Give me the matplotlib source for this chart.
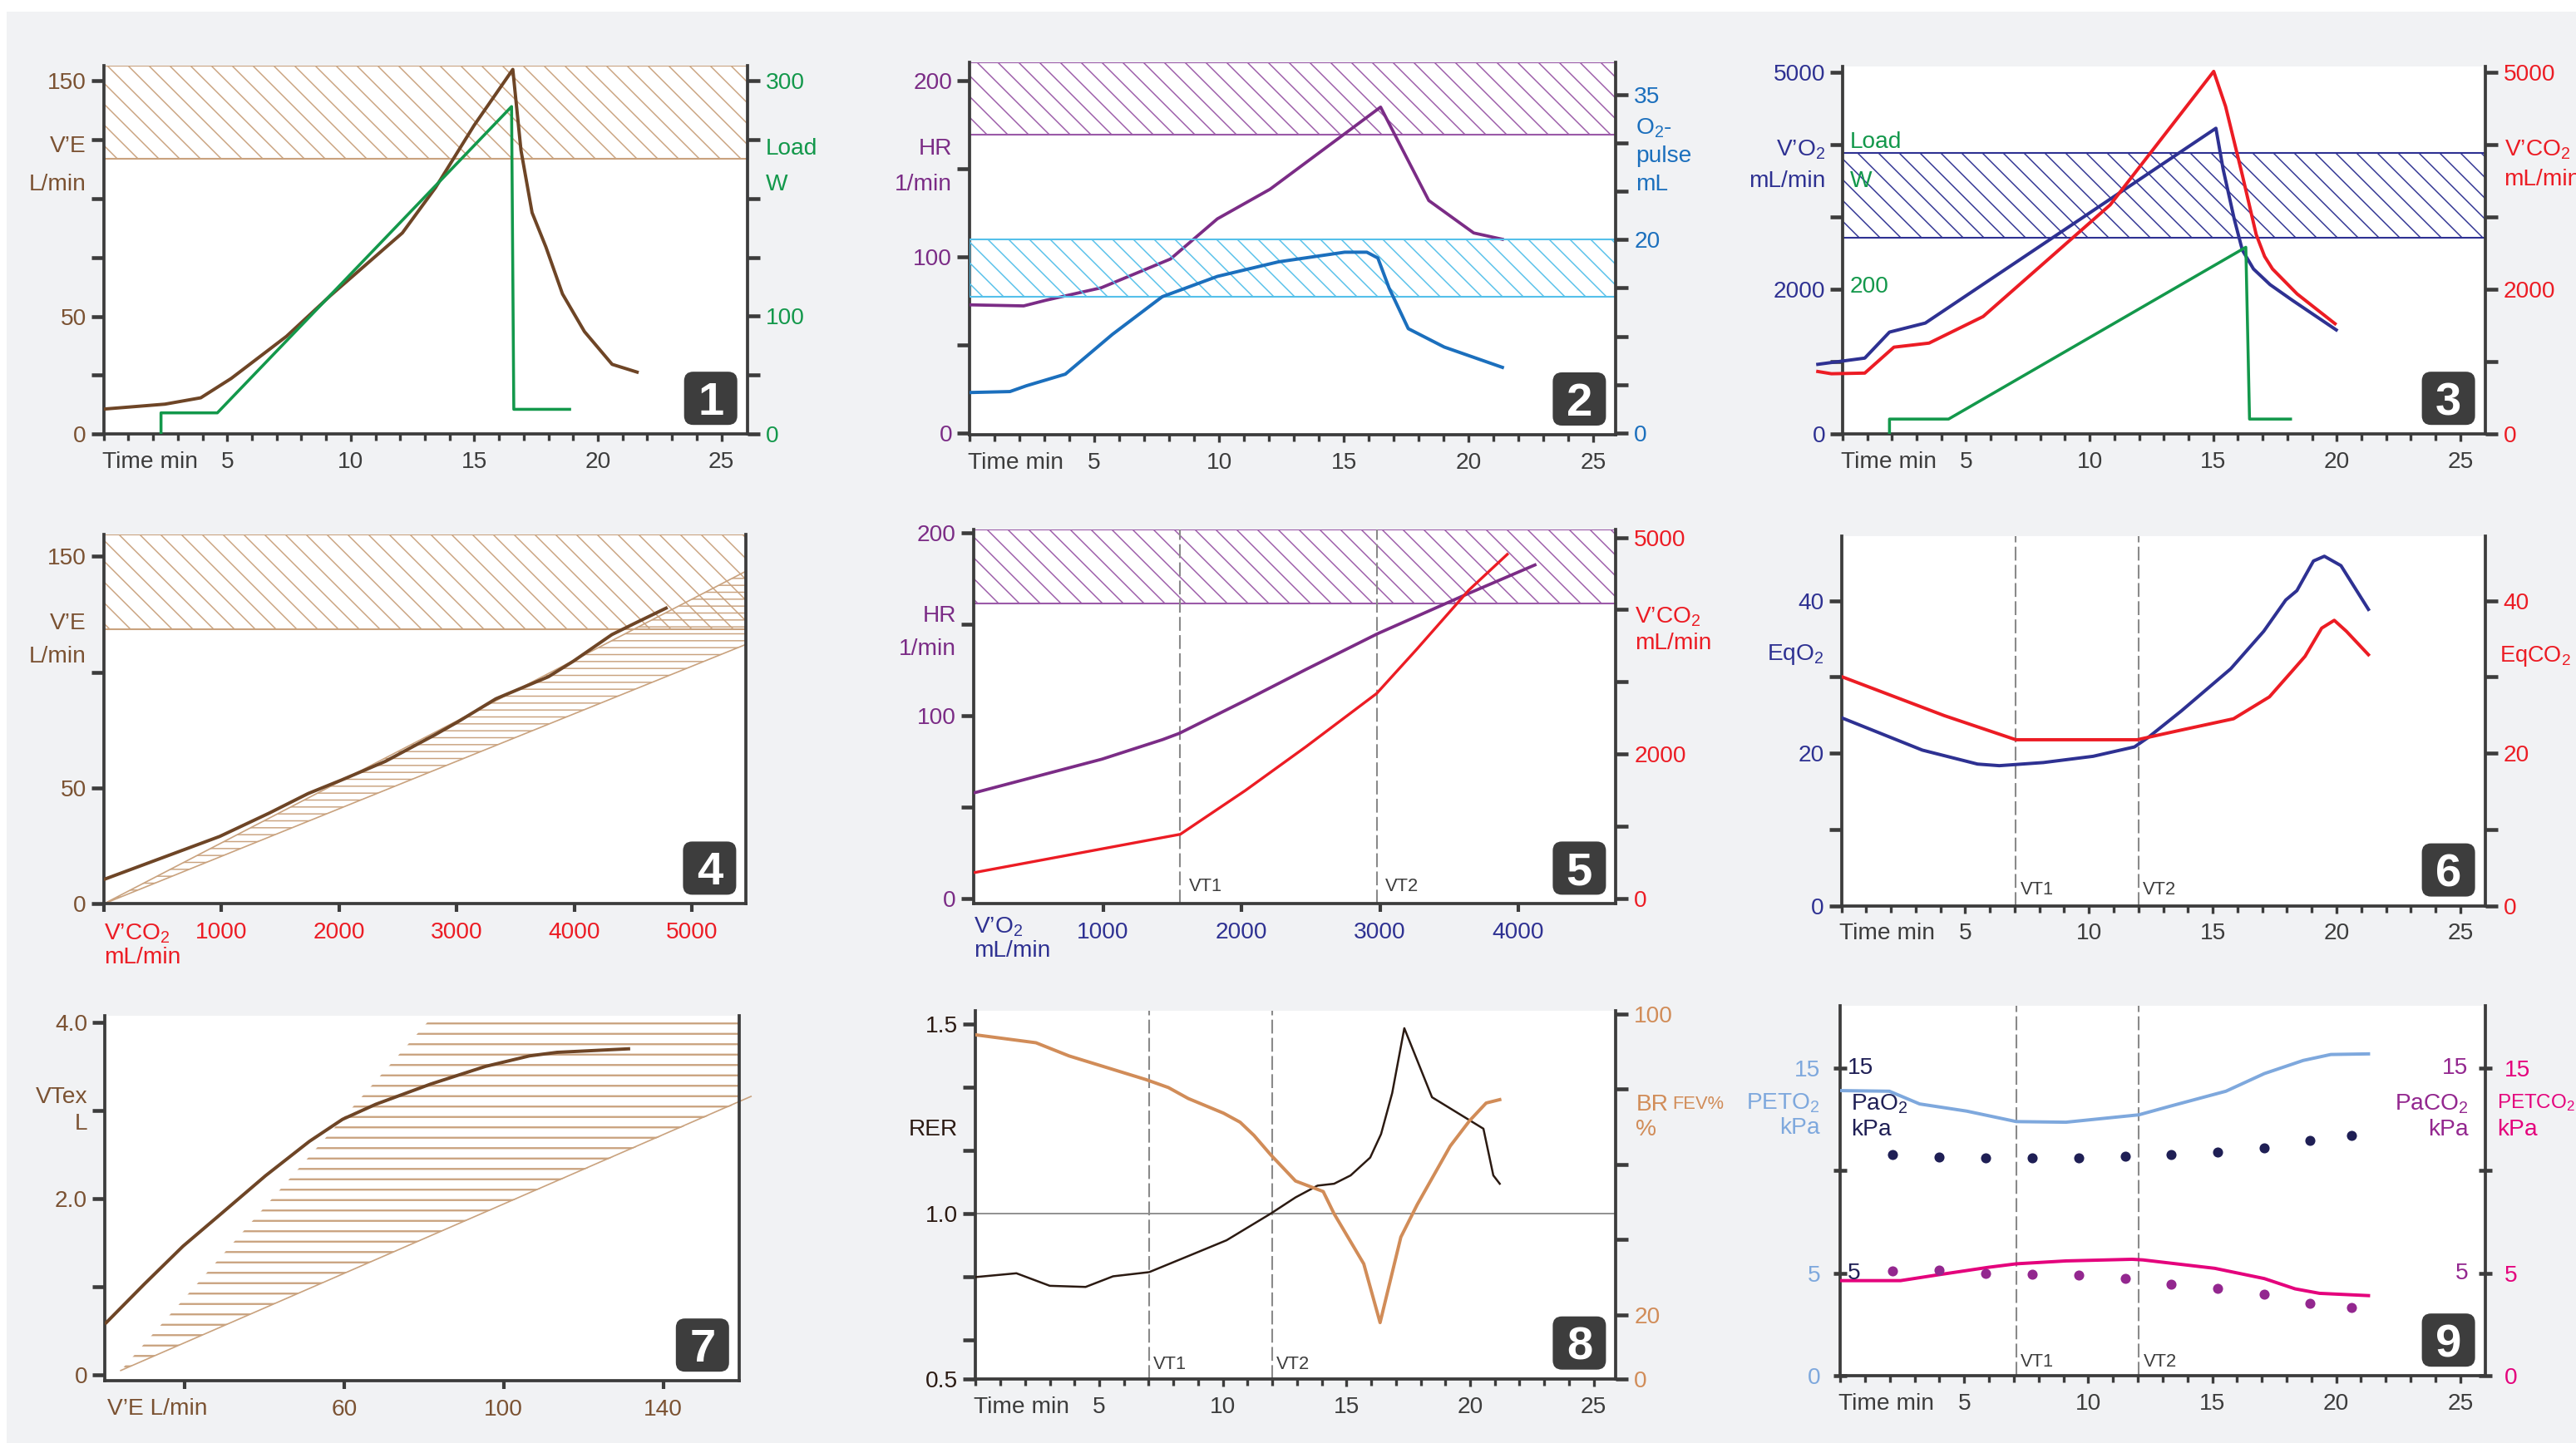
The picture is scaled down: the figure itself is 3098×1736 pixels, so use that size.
import numpy as np
import matplotlib
matplotlib.use("Agg")
import matplotlib.pyplot as plt
from matplotlib.patches import FancyBboxPatch, Rectangle
from matplotlib.transforms import IdentityTransform

W, H, DPI = 3098, 1736, 150

BG = "#f1f2f4"
DARK = "#3c3c3c"
BROWN = "#6e4526"
BROWN_TXT = "#7b5232"
TAN = "#c9a27e"
GREEN = "#13984b"
PURPLE = "#7b2c86"
BLUE = "#1b6fbd"
SKY = "#55c0ea"
NAVY = "#2e3192"
RED = "#ec1c24"
BR_TAN = "#d18c58"
RER_C = "#2b1a12"
LBLUE = "#7ea8dd"
DNAVY = "#1f1f55"
MAGENTA = "#e4007c"
VIOLET = "#93278f"
VTGRAY = "#8a8a8a"

# ---------------- data ----------------
# 1: V'E and load vs time
p1_t = [0, 2.48, 3.93, 5.16, 7.4, 9.18, 12.09, 13.43, 14.99, 16.56, 16.89, 17.34, 17.9, 18.57, 19.46, 20.58, 21.59]
p1_ve = [10.6, 12.7, 15.4, 23.6, 41.5, 58.8, 85.4, 104.6, 131, 154.8, 120.5, 94, 79.4, 59.5, 43.5, 29.6, 26.3]
p1_load_t = [2.32, 2.32, 4.6, 16.51, 16.6, 18.86]
p1_load_w = [0, 18, 18, 278, 21, 21]
p1_band = (117, 156.4)

# 2: HR and O2 pulse vs time
p2_t_hr = [0, 2.17, 3.06, 5.28, 8.05, 9.93, 12.04, 16.47, 18.4, 20.2, 21.35]
p2_hr = [72.8, 72.2, 75.4, 82.5, 98.8, 121.6, 138.4, 185, 132, 113.6, 110]
p2_t_o2 = [0, 1.62, 2.28, 3.84, 5.72, 7.72, 9.93, 12.37, 15.03, 15.92, 16.36, 16.81, 17.58, 19.02, 21.35]
p2_o2 = [4.2, 4.3, 4.9, 6.1, 10.2, 14.1, 16.2, 17.7, 18.7, 18.7, 18.1, 15.0, 10.8, 8.9, 6.8]
p2_band_hr = (169.5, 210.3)
p2_band_o2 = (14.1, 20.0)

# 3: V'O2, V'CO2 and load vs time
p3_t_vo2 = [-1.0, 0.9, 1.9, 3.35, 15.11, 15.4, 15.85, 16.18, 16.63, 17.3, 18.2, 19.98]
p3_vo2 = [963, 1049, 1408, 1533, 4223, 3661, 2971, 2539, 2280, 2064, 1848, 1438]
p3_t_vco2 = [-1.0, -0.45, 0.9, 2.08, 3.5, 5.69, 10.83, 15.02, 15.5, 16.18, 16.74, 17.08, 17.4, 18.4, 19.93]
p3_vco2 = [864, 833, 842, 1200, 1256, 1623, 3165, 5008, 4525, 3575, 2755, 2453, 2280, 1934, 1524]
p3_load_t = [1.9, 1.9, 4.29, 16.32, 16.47, 18.13]
p3_load_w = [0, 20.7, 20.7, 258, 20.7, 20.7]   # drawn at 10 mL/min per W
p3_band = (2712, 3877)

# 4: V'E vs V'CO2
p4_vco2 = [0, 986, 1408, 1737, 2019, 2394, 2817, 3005, 3333, 3779, 3991, 4319, 4507, 4779]
p4_ve = [10.5, 29.1, 39.2, 47.6, 53.4, 61.5, 73.0, 78.4, 88.5, 98.0, 104.7, 116.2, 120.9, 127.6]
p4_lim_x = [0, 5460]
p4_lim_lo = [0, 112]
p4_lim_hi = [0, 143.6]
p4_band = (118.6, 159.5)

# 5: HR and V'CO2 vs V'O2
p5_vo2_hr = [76, 992, 1430, 1550, 2028, 2466, 2984, 3622, 4120]
p5_hr = [58, 76.3, 87, 90.4, 108.4, 125.4, 145, 166.4, 182.6]
p5_vo2_co2 = [76, 1558, 2028, 2466, 2976, 3263, 3641, 3920]
p5_vco2 = [364, 892, 1498, 2104, 2840, 3446, 4268, 4766]
p5_vt = [1558, 2976]
p5_band = (161.6, 202)

# 6: EqO2 and EqCO2 vs time
p6_t_o2 = [0.04, 3.27, 5.5, 6.38, 8.16, 10.17, 11.84, 12.39, 13.73, 15.73, 17.06, 17.95, 18.4, 19.07, 19.51, 20.18, 21.29]
p6_eqo2 = [24.6, 20.4, 18.57, 18.36, 18.77, 19.59, 20.82, 22.05, 25.53, 31.07, 35.98, 40.08, 41.31, 45.2, 45.82, 44.59, 38.85]
p6_t_co2 = [0.04, 4.16, 7.05, 11.95, 13.5, 15.84, 17.29, 18.18, 18.73, 19.4, 19.91, 20.4, 21.29]
p6_eqco2 = [30.0, 24.92, 21.76, 21.76, 22.87, 24.51, 27.38, 30.66, 32.7, 36.39, 37.42, 35.98, 32.91]
p6_vt = [7.05, 12.0]

# 7: VTex vs V'E
p7_ve = [0.3, 9.9, 19.6, 29.2, 40.3, 51.3, 59.6, 67.9, 81.7, 95.4, 106.5, 113.4, 131.3]
p7_vt = [0.59, 1.03, 1.46, 1.83, 2.26, 2.65, 2.90, 3.07, 3.30, 3.50, 3.62, 3.66, 3.70]
p7_lim_ve = [4, 162]
p7_lim_vt = [0.05, 3.16]
p7_zone_ve = [4, 83, 159, 159]
p7_zone_vt = [0.05, 4.11, 4.11, 3.09]

# 8: RER and breathing reserve vs time
p8_t_rer = [0, 1.65, 3.0, 4.45, 5.56, 7.02, 8.7, 10.15, 11.93, 12.94, 13.83, 14.5, 15.17, 15.96, 16.4, 16.85, 17.34, 18.46, 20.54, 20.94, 21.2]
p8_rer = [0.833, 0.843, 0.81, 0.807, 0.835, 0.846, 0.891, 0.93, 1.0, 1.043, 1.074, 1.079, 1.101, 1.148, 1.21, 1.318, 1.489, 1.307, 1.224, 1.101, 1.079]
p8_t_br = [0, 2.44, 3.78, 6.9, 7.8, 8.6, 10.03, 10.7, 11.26, 11.93, 12.94, 14.06, 14.5, 15.7, 16.36, 17.2, 17.86, 19.2, 19.98, 20.65, 21.2]
p8_br = [94.4, 92.3, 88.8, 82.5, 80.4, 77.5, 73.6, 71.2, 67.7, 62.6, 55.6, 52.8, 46.9, 33.6, 18.0, 40.7, 49.3, 64.9, 71.6, 76.3, 77.2]
p8_vt = [7.02, 11.98]

# 9: gas tensions vs time
p9_t_peto2 = [0, 1.98, 3.2, 5.1, 7.1, 9.1, 12.04, 13.33, 15.55, 17.1, 18.67, 19.78, 21.3]
p9_peto2 = [13.9, 13.87, 13.25, 12.9, 12.39, 12.36, 12.72, 13.15, 13.87, 14.73, 15.37, 15.66, 15.69]
p9_t_petco2 = [0, 2.43, 3.98, 5.98, 7.1, 9.1, 11.77, 12.2, 13.33, 15.1, 17.1, 18.34, 19.33, 21.3]
p9_petco2 = [4.64, 4.64, 4.93, 5.29, 5.46, 5.60, 5.68, 5.65, 5.49, 5.24, 4.74, 4.24, 4.02, 3.91]
p9_t_blood = [2.11, 3.98, 5.87, 7.74, 9.61, 11.48, 13.35, 15.22, 17.09, 18.95, 20.6]
p9_pao2 = [10.80, 10.68, 10.62, 10.62, 10.62, 10.72, 10.80, 10.89, 11.09, 11.49, 11.71]
p9_paco2 = [5.10, 5.14, 4.99, 4.94, 4.90, 4.74, 4.48, 4.27, 3.99, 3.52, 3.33]
p9_vt = [7.1, 12.04]

# ---------------- style ----------------
plt.rcParams["font.family"] = ["Liberation Sans", "DejaVu Sans"]
plt.rcParams["mathtext.fontset"] = "custom"
plt.rcParams["mathtext.rm"] = "Liberation Sans"
plt.rcParams["mathtext.it"] = "Liberation Sans:italic"
plt.rcParams["mathtext.bf"] = "Liberation Sans:bold"
plt.rcParams["hatch.linewidth"] = 0.7
FS = 13.5

fig = plt.figure(figsize=(W / DPI, H / DPI), dpi=DPI, facecolor="white")
fig.patches.append(Rectangle((8 / W, 0), 1, 1 - 14 / H, transform=fig.transFigure,
                             facecolor=BG, edgecolor="none", zorder=-10))


def setup(box, xlim, ylim, ylim_r=None):
    l, t, r, b = box
    ax = fig.add_axes([l / W, 1 - b / H, (r - l) / W, (b - t) / H])
    ax.set_xlim(*xlim)
    ax.set_ylim(*ylim)
    ax.set_facecolor("white")
    ax.spines["top"].set_visible(False)
    ax.spines["right"].set_visible(False)
    for s in ("left", "bottom"):
        ax.spines[s].set_color(DARK)
        ax.spines[s].set_linewidth(1.8)
    ax.tick_params(axis="y", length=7, width=2.2, color=DARK, pad=3, labelsize=FS)
    ax.tick_params(axis="x", which="both", length=4.5, width=1.6, color=DARK, pad=5.5,
                   labelsize=FS, labelcolor=DARK)
    tw = ax.twinx()
    tw.set_ylim(*(ylim_r or ylim))
    for s in ("top", "left", "bottom"):
        tw.spines[s].set_visible(False)
    tw.spines["right"].set_color(DARK)
    tw.spines["right"].set_linewidth(1.8)
    tw.tick_params(axis="y", length=7, width=2.2, color=DARK, pad=3.5, labelsize=FS)
    return ax, tw


def yticks(ax, ticks, labels, color):
    ax.set_yticks(ticks, labels=labels)
    ax.tick_params(axis="y", labelcolor=color)


def side_text(ax, y, s, color, side="left", off=10, dx=0, size=FS):
    # outside the spine
    if side == "left":
        ax.annotate(s, xy=(0, y), xycoords=("axes fraction", "data"), xytext=(-off + dx, 0),
                    textcoords="offset points", ha="right", va="center", color=color,
                    fontsize=size, annotation_clip=False)
    else:
        ax.annotate(s, xy=(1, y), xycoords=("axes fraction", "data"), xytext=(off + dx, 0),
                    textcoords="offset points", ha="left", va="center", color=color,
                    fontsize=size, annotation_clip=False)


def inner_text(ax, y, s, color, side, off):
    # inside the spine
    if side == "left":
        ax.annotate(s, xy=(0, y), xycoords=("axes fraction", "data"), xytext=(off, 0),
                    textcoords="offset points", ha="left", va="center", color=color, fontsize=FS)
    else:
        ax.annotate(s, xy=(1, y), xycoords=("axes fraction", "data"), xytext=(-off, 0),
                    textcoords="offset points", ha="right", va="center", color=color, fontsize=FS)


def under_text(ax, s, color, dy):
    ax.annotate(s, xy=(0, 0), xycoords="axes fraction", xytext=(0, -dy), textcoords="offset points",
                ha="left", va="center", color=color, fontsize=FS, annotation_clip=False)


def time_axis(ax):
    ax.set_xticks([5, 10, 15, 20, 25])
    ax.set_xticks(range(0, 26), minor=True)
    ax.tick_params(axis="x", which="minor", length=4)
    ax.annotate("Time min", xy=(0, 0), xycoords="axes fraction", xytext=(-1, -10),
                textcoords="offset points", ha="left", va="top", color=DARK, fontsize=FS)


def vt_lines(ax, xs, dx=2.5, dy=4):
    for x, name in zip(xs, ("VT1", "VT2")):
        ax.axvline(x, color=VTGRAY, lw=1.0, dashes=(8, 2.5), zorder=1.5)
        ax.annotate(name, xy=(x, 0), xycoords=("data", "axes fraction"), xytext=(dx, dy),
                    textcoords="offset points", ha="left", va="bottom", color=DARK, fontsize=10.5)


def band(ax, lo, hi, color):
    ax.axhspan(lo, hi, facecolor="none", edgecolor=color, linewidth=1.0, hatch="\\\\", zorder=1)


def badge(box, n):
    l, t, r, b = box
    x1, y1 = r - 12, b - 11
    x0, y0 = x1 - 64, y1 - 64
    p = FancyBboxPatch((x0 + 11, H - y1 + 11), 42, 42, boxstyle="round,pad=11",
                       transform=IdentityTransform(), facecolor="#3d3d3d", edgecolor="none", zorder=10)
    fig.add_artist(p)
    fig.text((x0 + 32) / W, 1 - (y0 + 32 + 20) / H, str(n), color="white", fontsize=27,
             fontweight="bold", ha="center", va="baseline", zorder=11)


B1 = (124.7, 79.0, 898.7, 522.2)
B2 = (1166.0, 75.2, 1943.4, 523.0)
B3 = (2215.9, 79.8, 2988.6, 522.2)
B4 = (124.7, 642.7, 897.4, 1087.4)
B5 = (1170.7, 637.0, 1943.4, 1087.4)
B6 = (2214.5, 644.6, 2988.6, 1089.6)
B7 = (126.0, 1221.8, 888.8, 1661.2)
B8 = (1173.3, 1215.5, 1943.4, 1658.7)
B9 = (2213.2, 1210.1, 2988.6, 1655.2)

# ---- 1
ax, tw = setup(B1, (0, 26.05), (0, 156.4), (0, 312.7))
time_axis(ax)
band(ax, *p1_band, TAN)
ax.plot(p1_t, p1_ve, color=BROWN, lw=1.9, zorder=3)
tw.plot(p1_load_t, p1_load_w, color=GREEN, lw=1.7, zorder=3)
yticks(ax, [0, 25, 50, 75, 100, 125, 150], ["0", "", "50", "", "", "", "150"], BROWN_TXT)
yticks(tw, [0, 50, 100, 150, 200, 250, 300], ["0", "", "100", "", "", "", "300"], GREEN)
side_text(ax, 122, "V’E", BROWN_TXT)
side_text(ax, 106, "L/min", BROWN_TXT)
side_text(tw, 242, "Load", GREEN, "right", 10.5)
side_text(tw, 212, "W", GREEN, "right", 10.5)
badge(B1, 1)

# ---- 2
ax, tw = setup(B2, (0, 25.9), (-0.9, 210.3), (-0.16, 38.3))
time_axis(ax)
band(ax, *p2_band_hr, "#9b5aa8")
band(tw, *p2_band_o2, SKY)
ax.plot(p2_t_hr, p2_hr, color=PURPLE, lw=1.8, zorder=3)
tw.plot(p2_t_o2, p2_o2, color=BLUE, lw=1.9, zorder=3)
yticks(ax, [0, 50, 100, 150, 200], ["0", "", "100", "", "200"], PURPLE)
yticks(tw, [0, 5, 10, 15, 20, 25, 30, 35], ["0", "", "", "", "20", "", "", "35"], BLUE)
side_text(ax, 161.5, "HR", PURPLE)
side_text(ax, 141, "1/min", PURPLE)
side_text(tw, 31.5, "O$_2$-", BLUE, "right", 11.5)
side_text(tw, 28.6, "pulse", BLUE, "right", 11.5)
side_text(tw, 25.7, "mL", BLUE, "right", 11.5)
badge(B2, 2)

# ---- 3
ax, tw = setup(B3, (0, 26.0), (0, 5078), (0, 5078))
time_axis(ax)
band(ax, *p3_band, NAVY)
ax.plot(p3_t_vo2, p3_vo2, color=NAVY, lw=1.9, zorder=3, clip_on=False)
ax.plot(p3_t_vco2, p3_vco2, color=RED, lw=1.9, zorder=3, clip_on=False)
ax.plot(p3_load_t, np.array(p3_load_w) * 10, color=GREEN, lw=1.7, zorder=3)
yticks(ax, [0, 1000, 2000, 3000, 4000, 5000], ["0", "", "2000", "", "", "5000"], NAVY)
yticks(tw, [0, 1000, 2000, 3000, 4000, 5000], ["0", "", "2000", "", "", "5000"], RED)
side_text(ax, 3920, "V’O$_2$", NAVY)
side_text(ax, 3489, "mL/min", NAVY)
side_text(tw, 3920, "V’CO$_2$", RED, "right", 11)
side_text(tw, 3510, "mL/min", RED, "right", 11)
for y, s in ((4030, "Load"), (3489, "W"), (2030, "200")):
    ax.text(0.3, y, s, color=GREEN, fontsize=FS, ha="left", va="center")
badge(B3, 3)

# ---- 4
ax, tw = setup(B4, (0, 5460), (0, 159.5))
tw.set_yticks([])
band(ax, *p4_band, TAN)
ax.fill_between(p4_lim_x, p4_lim_lo, p4_lim_hi, facecolor="none", edgecolor=TAN, linewidth=0,
                hatch="---", zorder=1)
ax.plot(p4_lim_x, p4_lim_lo, color=TAN, lw=0.8, zorder=1.2)
ax.plot(p4_lim_x, p4_lim_hi, color=TAN, lw=0.8, zorder=1.2)
ax.plot(p4_vco2, p4_ve, color=BROWN, lw=1.9, zorder=3)
ax.set_xticks([0, 1000, 2000, 3000, 4000, 5000], labels=["", "1000", "2000", "3000", "4000", "5000"])
ax.tick_params(axis="x", labelcolor=RED, length=5, width=2)
yticks(ax, [0, 50, 100, 150], ["0", "50", "", "150"], BROWN_TXT)
side_text(ax, 121, "V’E", BROWN_TXT)
side_text(ax, 106.8, "L/min", BROWN_TXT)
under_text(ax, "V’CO$_2$", RED, 17)
under_text(ax, "mL/min", RED, 31)
badge(B4, 4)

# ---- 5
ax, tw = setup(B5, (64, 4705), (-2.9, 202), (-71, 5110))
band(ax, *p5_band, "#9b5aa8")
vt_lines(ax, p5_vt, dx=5, dy=5)
ax.plot(p5_vo2_hr, p5_hr, color=PURPLE, lw=1.8, zorder=3)
tw.plot(p5_vo2_co2, p5_vco2, color=RED, lw=1.6, zorder=3)
ax.set_xticks([1000, 2000, 3000, 4000])
ax.tick_params(axis="x", labelcolor=NAVY, length=5, width=2)
yticks(ax, [0, 50, 100, 150, 200], ["0", "", "100", "", "200"], PURPLE)
yticks(tw, [0, 1000, 2000, 3000, 4000, 5000], ["0", "", "2000", "", "", "5000"], RED)
side_text(ax, 154.8, "HR", PURPLE)
side_text(ax, 136.5, "1/min", PURPLE)
side_text(tw, 3900, "V’CO$_2$", RED, "right", 11)
side_text(tw, 3532, "mL/min", RED, "right", 11)
under_text(ax, "V’O$_2$", NAVY, 13.5)
under_text(ax, "mL/min", NAVY, 27)
badge(B5, 5)

# ---- 6
ax, tw = setup(B6, (0, 26.0), (0, 48.5), (0, 48.5))
time_axis(ax)
vt_lines(ax, p6_vt)
ax.plot(p6_t_o2, p6_eqo2, color=NAVY, lw=1.9, zorder=3)
ax.plot(p6_t_co2, p6_eqco2, color=RED, lw=1.9, zorder=3)
yticks(ax, [0, 10, 20, 30, 40], ["0", "", "20", "", "40"], NAVY)
yticks(tw, [0, 10, 20, 30, 40], ["0", "", "20", "", "40"], RED)
side_text(ax, 32.9, "EqO$_2$", NAVY)
side_text(tw, 32.7, "EqCO$_2$", RED, "right", 8.5, size=13)
badge(B6, 6)

# ---- 7
ax, tw = setup(B7, (0, 159), (-0.067, 4.077))
tw.set_yticks([])
zone = ax.fill(p7_zone_ve, p7_zone_vt, facecolor="none", edgecolor=TAN, linewidth=0, hatch="--", zorder=1)[0]
try:
    zone.set_hatch_linewidth(1.1)
except AttributeError:
    pass
ax.plot(p7_lim_ve, p7_lim_vt, color=TAN, lw=0.8, zorder=1.2, clip_on=False)
ax.plot(p7_ve, p7_vt, color=BROWN, lw=1.9, zorder=3)
ax.set_xticks([20, 60, 100, 140], labels=["", "60", "100", "140"])
ax.tick_params(axis="x", labelcolor=BROWN_TXT, length=5, width=2)
yticks(ax, [0, 1, 2, 3, 4], ["0", "", "2.0", "", "4.0"], BROWN_TXT)
side_text(ax, 3.15, "VTex", BROWN_TXT)
side_text(ax, 2.85, "L", BROWN_TXT)
ax.annotate("V’E L/min", xy=(0, 0), xycoords="axes fraction", xytext=(1.5, -10),
            textcoords="offset points", ha="left", va="top", color=BROWN_TXT, fontsize=FS)
badge(B7, 7)

# ---- 8
ax, tw = setup(B8, (0, 25.9), (0.565, 1.536), (3.1, 100.9))
time_axis(ax)
vt_lines(ax, p8_vt, dy=3)
ax.axhline(1.0, color="#8c8c8c", lw=0.9, zorder=1.4)
ax.plot(p8_t_rer, p8_rer, color=RER_C, lw=1.2, zorder=3)
tw.plot(p8_t_br, p8_br, color=BR_TAN, lw=1.9, zorder=3)
yticks(ax, [0.565, 2 / 3, 5 / 6, 1.0, 7 / 6, 4 / 3, 1.5], ["0.5", "", "", "1.0", "", "", "1.5"], RER_C)
yticks(tw, [3.1, 20, 40, 60, 80, 100], ["0", "20", "", "", "", "100"], BR_TAN)
side_text(ax, 1.221, "RER", RER_C)
side_text(tw, 75.9, "BR", BR_TAN, "right", 11.5)
side_text(tw, 75.9, "FEV%", BR_TAN, "right", 11.5, dx=21, size=10.5)
side_text(tw, 69.2, "%", BR_TAN, "right", 11.5)
badge(B8, 8)

# ---- 9
ax, tw = setup(B9, (0, 26.0), (0, 18.03), (0, 18.03))
time_axis(ax)
vt_lines(ax, p9_vt, dy=3)
ax.plot(p9_t_peto2, p9_peto2, color=LBLUE, lw=1.9, zorder=3)
ax.plot(p9_t_petco2, p9_petco2, color=MAGENTA, lw=1.9, zorder=3)
ax.plot(p9_t_blood, p9_pao2, "o", color=DNAVY, ms=4.8, zorder=3)
ax.plot(p9_t_blood, p9_paco2, "o", color=VIOLET, ms=4.8, zorder=3)
for a in (ax, tw):
    a.tick_params(axis="y", direction="inout", length=7.7, width=2.2, pad=7.5)
yticks(ax, [0, 5, 10, 15], ["0", "5", "", "15"], LBLUE)
yticks(tw, [0, 5, 10, 15], ["0", "5", "", "15"], MAGENTA)
side_text(ax, 13.3, "PETO$_2$", LBLUE, off=11.5)
side_text(ax, 12.07, "kPa", LBLUE, off=11.5)
side_text(tw, 13.3, "PETCO$_2$", MAGENTA, "right", 7, size=11.6)
side_text(tw, 12.0, "kPa", MAGENTA, "right", 7)
inner_text(ax, 15, "15", DNAVY, "left", 4.3)
inner_text(ax, 5, "5", DNAVY, "left", 4.3)
inner_text(ax, 13.25, "PaO$_2$", DNAVY, "left", 6.3)
inner_text(ax, 12.0, "kPa", DNAVY, "left", 6.3)
inner_text(ax, 15, "15", VIOLET, "right", 9.6)
inner_text(ax, 5, "5", VIOLET, "right", 9.6)
inner_text(ax, 13.25, "PaCO$_2$", VIOLET, "right", 9.3)
inner_text(ax, 12.0, "kPa", VIOLET, "right", 9.3)
badge(B9, 9)

fig.savefig("out.png", dpi=DPI, facecolor=fig.get_facecolor())
